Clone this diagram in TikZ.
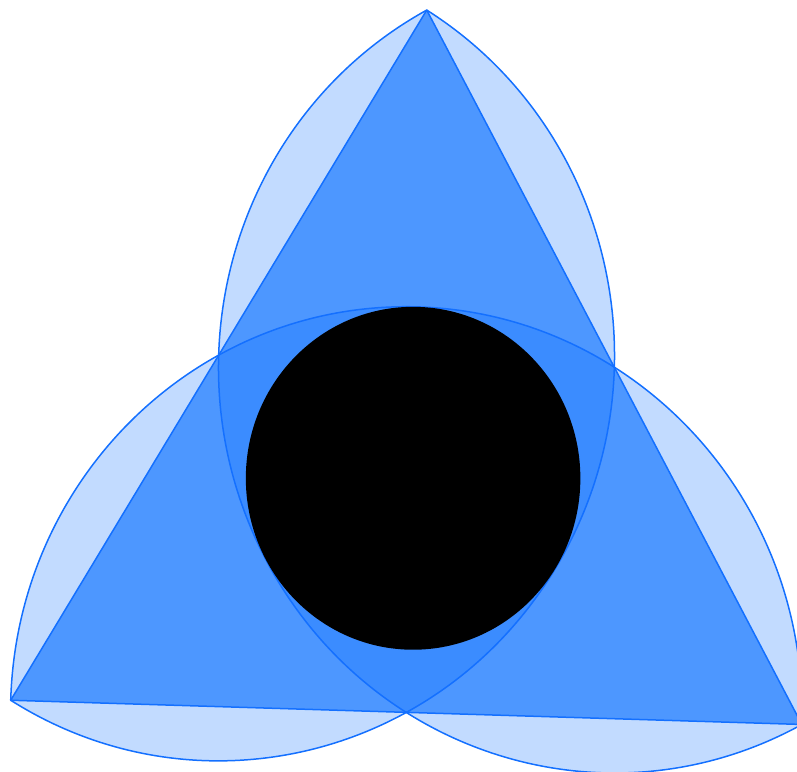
\documentclass[tikz,border=0pt]{standalone}
\usetikzlibrary{calc}
\definecolor{blueC}{RGB}{0,106,255}
\definecolor{strokeC}{RGB}{20,112,255}
\tikzset{
  halfdisk/.style={fill=blueC, fill opacity=0.24},
  trianglefill/.style={fill=blueC, fill opacity=0.477},
  outline/.style={draw=strokeC, line width=1.5pt, line join=round},
  hole/.style={fill=black}
}
\begin{document}
\begin{tikzpicture}[x=1pt,y=-1.025pt]
\clip (0,0) rectangle (797,752.2);
\def\R{457}
\def\rr{395.77}
\coordinate (G) at (413.1,466.6);
\coordinate (A) at ($(G)+(-88.29:\R)$);
\coordinate (B) at ($(G)+(151.71:\R)$);
\coordinate (C) at ($(G)+(31.71:\R)$);
% big triangle fill
\fill[trianglefill] (A) -- (B) -- (C) -- cycle;
% three half-disks on the sides
\fill[halfdisk] (A) arc[start angle=-58.29, end angle=121.71, radius=\rr] -- cycle;
\fill[halfdisk] (C) arc[start angle=61.71, end angle=241.71, radius=\rr] -- cycle;
\fill[halfdisk] (C) arc[start angle=1.71, end angle=-178.29, radius=\rr] -- cycle;
% outlines
\draw[outline] (A) arc[start angle=-58.29, end angle=121.71, radius=\rr];
\draw[outline] (C) arc[start angle=61.71, end angle=241.71, radius=\rr];
\draw[outline] (C) arc[start angle=1.71, end angle=-178.29, radius=\rr];
\draw[outline] (A) -- (B) -- (C) -- cycle;
% central black disk
\fill[hole] (G) circle[radius=167.27];
\end{tikzpicture}
\end{document}
